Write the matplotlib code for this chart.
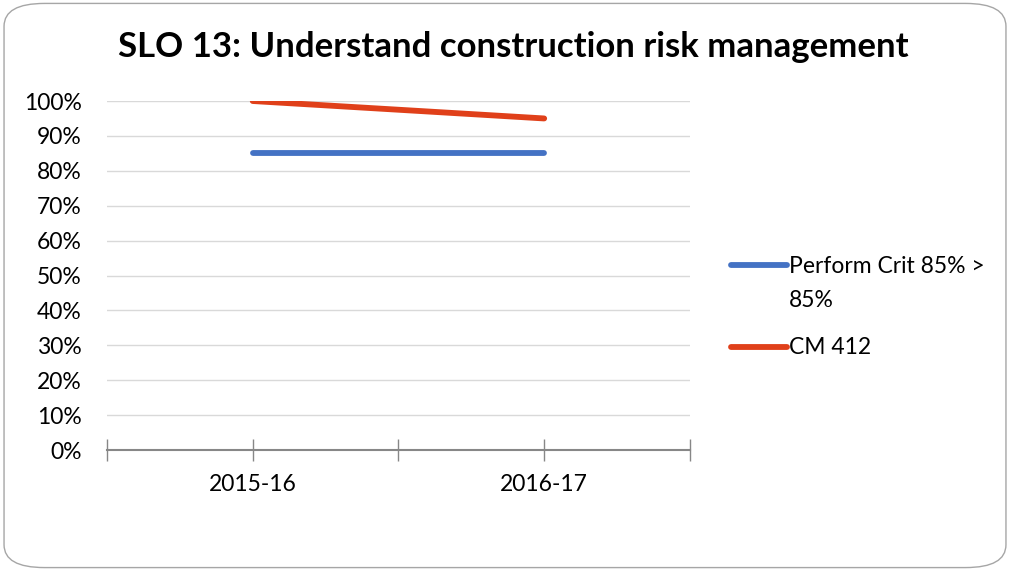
import matplotlib
matplotlib.use("Agg")
import matplotlib.pyplot as plt
from matplotlib.patches import FancyBboxPatch
from matplotlib.lines import Line2D

# --- data ---
years = ["2015-16", "2016-17"]
perform_crit = [0.85, 0.85]
cm412 = [1.00, 0.95]
series_names = ["Perform Crit 85% >\n85%", "CM 412"]
series_colors = ["#4472C4", "#E0401A"]
yticks = [0, 0.1, 0.2, 0.3, 0.4, 0.5, 0.6, 0.7, 0.8, 0.9, 1.0]

plt.rcParams['font.family'] = ['Lato', 'DejaVu Sans']
FS = 16.5

fig = plt.figure(figsize=(10.1, 5.71), dpi=100)
ax = fig.add_axes([0.1059, 0.2119, 0.5772, 0.6112])

# rounded frame round the chart
frame = FancyBboxPatch((0.004, 0.006), 0.992, 0.988,
                       boxstyle="round,pad=0,rounding_size=0.04",
                       transform=fig.transFigure, facecolor="white",
                       edgecolor="#A6A6A6", linewidth=1.0, zorder=-10)
fig.patches.append(frame)

x = list(range(len(years)))
ax.plot(x, perform_crit, color=series_colors[0], lw=4.2, solid_capstyle="round", zorder=3)
ax.plot(x, cm412, color=series_colors[1], lw=4.2, solid_capstyle="round", zorder=3)

ax.set_xlim(-0.5, 1.5)
ax.set_ylim(0, 1.0)
ax.set_yticks(yticks)
ax.set_yticklabels([f"{int(round(v * 100))}%" for v in yticks], fontsize=FS)
ax.tick_params(axis="y", length=0, pad=18)

# category labels in between tick marks, like Excel
ax.set_xticks([-0.5, 0, 0.5, 1, 1.5])
ax.set_xticklabels([])
ax.tick_params(axis="x", direction="inout", length=16, width=1.0, color="#878787")
for xi, lab in zip(x, years):
    ax.text(xi, -0.1, lab, ha="center", va="center", fontsize=FS,
            transform=ax.get_xaxis_transform())

ax.grid(axis="y", color="#D9D9D9", lw=1.0)
ax.set_axisbelow(True)
for s in ["top", "right", "left"]:
    ax.spines[s].set_visible(False)
ax.spines["bottom"].set_color("#878787")
ax.spines["bottom"].set_linewidth(1.5)

fig.text(0.508, 0.917, "SLO 13: Understand construction risk management",
         ha="center", va="center", fontsize=25, fontweight="bold")

# legend drawn by hand to keep the handle on the first text line
leg_y = [1 - 265 / 571, 1 - 347 / 571]
for name, col, ly in zip(series_names, series_colors, leg_y):
    fig.add_artist(Line2D([0.7238, 0.7792], [ly, ly], transform=fig.transFigure,
                          color=col, lw=4.2, solid_capstyle="round"))
    if "\n" in name:
        fig.text(0.7812, ly + 0.0149, name, ha="left", va="top",
                 fontsize=FS, linespacing=1.73)
    else:
        fig.text(0.7812, ly, name, ha="left", va="center", fontsize=FS)

fig.savefig("out.png", dpi=100)
